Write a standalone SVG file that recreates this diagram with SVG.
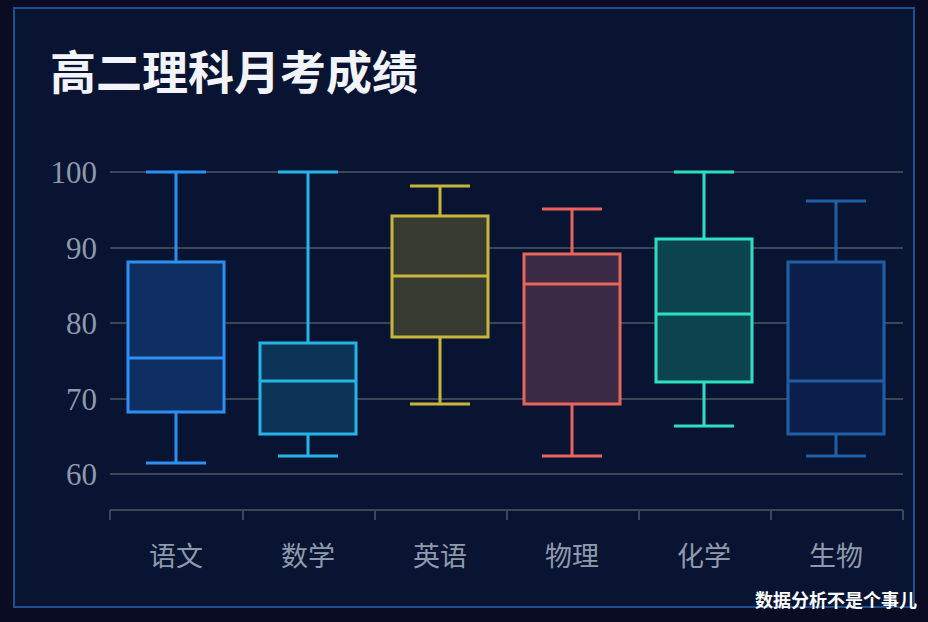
<svg xmlns="http://www.w3.org/2000/svg" width="928" height="622" viewBox="0 0 928 622">
<style>
.ax{font-family:"Liberation Serif",serif;font-size:31px;fill:#8e9aac;text-anchor:end}
.cat{font-family:"Noto Sans CJK SC",sans-serif;font-size:27px;fill:#8e9aac;text-anchor:middle}
.grid{stroke:#3c4658;stroke-width:2}
.bx{stroke-width:3}
</style>
<rect width="928" height="622" fill="#0a0c24"/>
<rect x="14" y="8" width="900" height="599" fill="#081432" stroke="#1c4f8c" stroke-width="2"/>
<text x="50" y="89" font-family="Noto Sans CJK SC,sans-serif" font-size="46" font-weight="bold" fill="#f2f4fa">高二理科月考成绩</text>
<g id="axes">
<line class="grid" x1="110" y1="172" x2="903" y2="172"/>
<line class="grid" x1="110" y1="248" x2="903" y2="248"/>
<line class="grid" x1="110" y1="323" x2="903" y2="323"/>
<line class="grid" x1="110" y1="399" x2="903" y2="399"/>
<line class="grid" x1="110" y1="474" x2="903" y2="474"/>
<path d="M110 510H903M110 510v10M243 510v10M375 510v10M507 510v10M639 510v10M771 510v10M903 510v10" stroke="#3c4658" stroke-width="2" fill="none"/>
<text class="ax" x="97" y="183">100</text>
<text class="ax" x="97" y="259">90</text>
<text class="ax" x="97" y="334">80</text>
<text class="ax" x="97" y="410">70</text>
<text class="ax" x="97" y="485">60</text>
<text class="cat" x="176" y="566">语文</text>
<text class="cat" x="308" y="566">数学</text>
<text class="cat" x="440" y="566">英语</text>
<text class="cat" x="572" y="566">物理</text>
<text class="cat" x="704" y="566">化学</text>
<text class="cat" x="836" y="566">生物</text>
</g>
<g id="yuwen" class="bx" stroke="#2f8ff0" fill="#0f2e62">
<path d="M146 172H206M176 172V262M176 412V463M146 463H206" fill="none"/>
<rect x="128" y="262" width="96" height="150"/>
<line x1="128" y1="358" x2="224" y2="358"/>
</g>
<g id="shuxue" class="bx" stroke="#22b5e6" fill="#0c3456">
<path d="M278 172H338M308 172V343M308 434V456M278 456H338" fill="none"/>
<rect x="260" y="343" width="96" height="91"/>
<line x1="260" y1="381" x2="356" y2="381"/>
</g>
<g id="yingyu" class="bx" stroke="#c8b53a" fill="#363a30">
<path d="M410 186H470M440 186V216M440 337V404M410 404H470" fill="none"/>
<rect x="392" y="216" width="96" height="121"/>
<line x1="392" y1="276" x2="488" y2="276"/>
</g>
<g id="wuli" class="bx" stroke="#e9645a" fill="#3a2a45">
<path d="M542 209H602M572 209V254M572 404V456M542 456H602" fill="none"/>
<rect x="524" y="254" width="96" height="150"/>
<line x1="524" y1="284" x2="620" y2="284"/>
</g>
<g id="huaxue" class="bx" stroke="#2ee0c0" fill="#0c4450">
<path d="M674 172H734M704 172V239M704 382V426M674 426H734" fill="none"/>
<rect x="656" y="239" width="96" height="143"/>
<line x1="656" y1="314" x2="752" y2="314"/>
</g>
<g id="shengwu" class="bx" stroke="#1f5fa8" fill="#0c1f4a">
<path d="M806 201H866M836 201V262M836 434V456M806 456H866" fill="none"/>
<rect x="788" y="262" width="96" height="172"/>
<line x1="788" y1="381" x2="884" y2="381"/>
</g>
<text x="917" y="607" text-anchor="end" font-family="Noto Sans CJK SC,sans-serif" font-size="18" font-weight="bold" fill="#ffffff">数据分析不是个事儿</text>
</svg>
